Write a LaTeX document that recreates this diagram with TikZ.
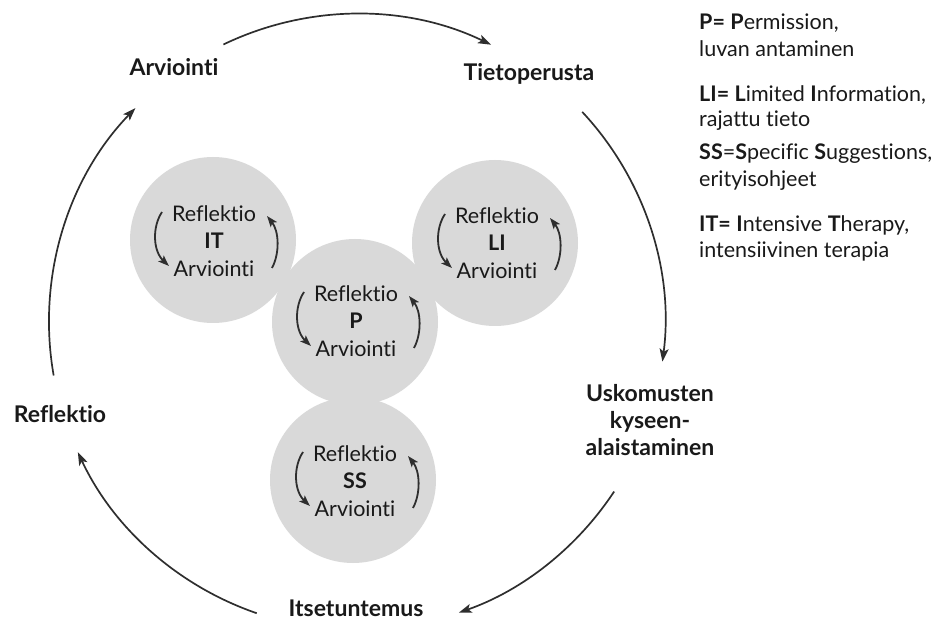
\documentclass[tikz,border=0pt]{standalone}
\usepackage{fontspec}
\setmainfont{Lato}[RawFeature={-liga;-dlig}]
\usetikzlibrary{arrows.meta}
\newcommand\loopar[1]{%
  \draw[small] ([shift={(-52pt,29pt)}]#1.center) .. controls ([shift={(-62pt,14pt)}]#1.center) and ([shift={(-61pt,-10pt)}]#1.center) .. ([shift={(-45pt,-25pt)}]#1.center);
  \draw[small] ([shift={(58pt,-27pt)}]#1.center) .. controls ([shift={(66pt,-12pt)}]#1.center) and ([shift={(65pt,10pt)}]#1.center) .. ([shift={(53pt,25pt)}]#1.center);}
\begin{document}
\begin{tikzpicture}[x=1pt,y=1pt,
  outer/.style={font=\fontsize{23}{27}\selectfont\bfseries, text=black!90, inner sep=0pt, anchor=base},
  grp/.style={font=\fontsize{21.5}{27.5}\selectfont, align=center, inner sep=0pt, text=black!90},
  leg/.style={font=\fontsize{21.5}{26}\selectfont, anchor=base west, inner sep=0pt, text=black!90},
  disc/.style={circle, fill=black!15, draw=none, minimum size=166pt, inner sep=0pt},
  cyc/.style={draw=black!82, line width=1.7pt, -{Stealth[length=13pt,width=9pt,inset=3pt]}},
  small/.style={draw=black!82, line width=1.8pt, -{Stealth[length=11pt,width=8pt,inset=2.5pt]}}]
\useasboundingbox (0,0) rectangle (938,622);

% grey discs
\node[disc] (dit) at (213,382) {};
\node[disc] (dli) at (495,379) {};
\node[disc] (dp) at (355,300) {};
\node[disc] (dss) at (353,142) {};

% inner groups
\node[grp] (git) at (214,381) {Reflektio\\\textbf{IT}\\Arviointi};
\node[grp] (gli) at (497,379) {Reflektio\\\textbf{LI}\\Arviointi};
\node[grp] (gp) at (356,301) {Reflektio\\\textbf{P}\\Arviointi};
\node[grp] (gss) at (355,141) {Reflektio\\\textbf{SS}\\Arviointi};
\loopar{git}
\loopar{gli}
\loopar{gp}
\loopar{gss}

% outer labels
\node[outer] (arv) at (174,546) {Arviointi};
\node[outer] (tie) at (529,541) {Tietoperusta};
\node[outer] (usk1) at (650,220) {Uskomusten};
\node[outer] (usk2) at (650,193) {kyseen-};
\node[outer] (usk3) at (650,166) {alaistaminen};
\node[outer] (its) at (356,6) {Itsetuntemus};
\node[outer] (ref) at (60,199) {Reflektio};

% outer cycle
\coordinate (o) at (357,300);
\coordinate (s1) at ([shift={(115.7:308pt)}]o);
\coordinate (s2) at ([shift={(43:308pt)}]o);
\coordinate (s3) at ([shift={(-33.4:308pt)}]o);
\coordinate (s4) at ([shift={(-109:308pt)}]o);
\coordinate (s5) at ([shift={(190:308pt)}]o);
\draw[cyc] (s1) arc[start angle=115.7, end angle=64.2, radius=308pt];
\draw[cyc] (s2) arc[start angle=43, end angle=-7.4, radius=308pt];
\draw[cyc] (s3) arc[start angle=-33.4, end angle=-70.7, radius=308pt];
\draw[cyc] (s4) arc[start angle=-109, end angle=-155, radius=308pt];
\draw[cyc] (s5) arc[start angle=190, end angle=136, radius=308pt];

% legend
\node[leg] (l1) at (699,592) {\textbf{P=} \textbf{P}ermission,};
\node[leg] (l2) at (699,565) {luvan antaminen};
\node[leg] (l3) at (699,520) {\textbf{LI=} \textbf{L}imited \textbf{I}nformation,};
\node[leg] (l4) at (699,495) {rajattu tieto};
\node[leg] (l5) at (699,462) {\textbf{SS}=\textbf{S}pecific \textbf{S}uggestions,};
\node[leg] (l6) at (699,435) {erityisohjeet};
\node[leg] (l7) at (699,390) {\textbf{IT=} \textbf{I}ntensive \textbf{T}herapy,};
\node[leg] (l8) at (699,364) {intensiivinen terapia};
\end{tikzpicture}
\end{document}
